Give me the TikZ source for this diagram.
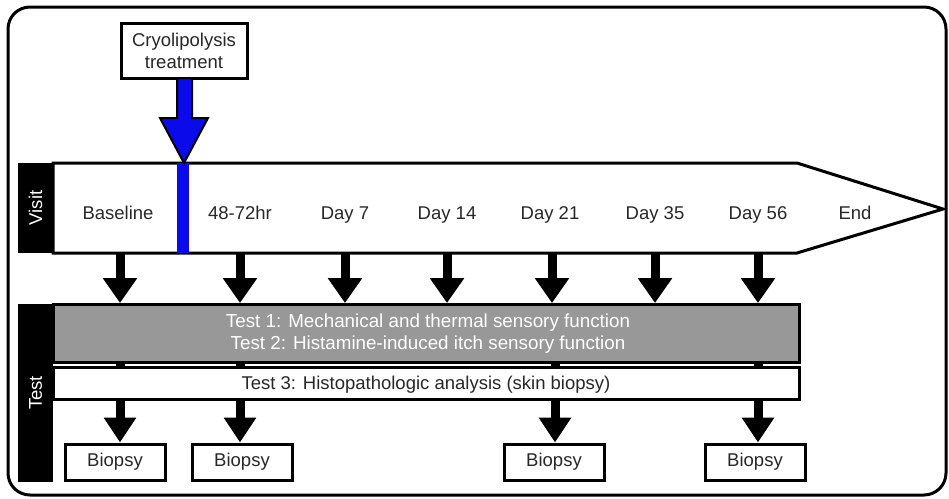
\documentclass[tikz,border=0pt]{standalone}
\usepackage{fontspec}
\setmainfont{Liberation Sans}
\usetikzlibrary{arrows.meta}
\definecolor{txt}{RGB}{40,40,40}
\definecolor{greybox}{RGB}{152,152,152}
\definecolor{bluebar}{RGB}{10,10,235}
\tikzset{
  lbl/.style={font=\fontsize{18.5}{22}\selectfont, text=txt, inner sep=0pt},
  boxline/.style={draw=black, line width=3pt},
  blockarrow/.style={line width=9pt, -{Triangle[width=33pt,length=25pt]}, shorten >=0pt},
  biopsybox/.style={boxline, fill=white, minimum width=100pt, minimum height=36pt, inner sep=0pt, font=\fontsize{18.5}{22}\selectfont, text=txt},
  sidelabel/.style={fill=black, text=white, inner sep=0pt, font=\fontsize{18.5}{22}\selectfont}
}
\begin{document}
\begin{tikzpicture}[x=1pt,y=-1pt]
\useasboundingbox (0,0) rectangle (949,498);
% outer frame
\draw[line width=3pt, rounded corners=22pt] (8,7) rectangle (946,495);

% visit band
\draw[boxline, fill=white] (53,163) -- (797,163) -- (943,209) -- (797,253) -- (53,253) -- cycle;
\fill[bluebar] (177,163) rectangle (189,253);
\node[sidelabel, minimum width=35pt, minimum height=90pt] (visitlbl) at (35.5,208) {};
\node[rotate=90, text=white, font=\fontsize{18.5}{22}\selectfont] at (visitlbl) {Visit};

% cryo box and blue arrow
\node[boxline, fill=white, minimum width=126pt, minimum height=55pt, inner sep=0pt, align=center, lbl, font=\fontsize{18.5}{22}\selectfont] (cryo) at (184,50.5) {Cryolipolysis\\treatment};
\coordinate (blueTip) at (184,163);
\draw[line width=2pt, fill=bluebar, line join=miter]
  (177,78) -- (192,78) -- (192,118) -- (208,118) -- (blueTip) -- (160,118) -- (177,118) -- cycle;

% visit labels
\node[lbl, anchor=base] (v1) at (118,219) {Baseline};
\node[lbl, anchor=base] (v2) at (240,219) {48-72hr};
\node[lbl, anchor=base] (v3) at (345,219) {Day 7};
\node[lbl, anchor=base] (v4) at (447,219) {Day 14};
\node[lbl, anchor=base] (v5) at (550,219) {Day 21};
\node[lbl, anchor=base] (v6) at (655,219) {Day 35};
\node[lbl, anchor=base] (v7) at (758,219) {Day 56};
\node[lbl, anchor=base] (v8) at (855,219) {End};

% test label
\node[sidelabel, minimum width=35pt, minimum height=178pt] (testlbl) at (35.5,393) {};
\node[rotate=90, text=white, font=\fontsize{18.5}{22}\selectfont] at (testlbl) {Test};

% stubs between grey and white box
\foreach \x in {120,240,555,758}{
  \fill[black] (\x-4.5,360) rectangle (\x+4.5,369);
}

% test boxes
\draw[boxline, fill=greybox] (53,304) rectangle (799,362);
\node[font=\fontsize{18.8}{22}\selectfont, text=white, align=center, inner sep=0pt] (t12) at (428,334) {Test 1: Mechanical and thermal sensory function\\Test 2: Histamine-induced itch sensory function};
\draw[boxline, fill=white] (53,367) rectangle (799,399);
\node[lbl, anchor=base] (t3) at (426,389) {Test 3: Histopathologic analysis (skin biopsy)};

% arrows from visits to tests
\foreach \x in {120,240,345,447,552,655,758}{
  \coordinate (a\x) at (\x,254);
  \coordinate (b\x) at (\x,303);
  \draw[blockarrow] (a\x) -- (b\x);
}

% biopsy boxes
\node[biopsybox] (bx1) at (115,462) {Biopsy};
\node[biopsybox] (bx2) at (242,462) {Biopsy};
\node[biopsybox] (bx3) at (554,462) {Biopsy};
\node[biopsybox] (bx4) at (755,462) {Biopsy};

\foreach \x/\b in {120/bx1,240/bx2,555/bx3,758/bx4}{
  \coordinate (c\x) at (\x,400);
  \draw[line width=9pt, -{Triangle[width=31pt,length=25pt]}] (c\x) -- (\b.north -| c\x);
}
\end{tikzpicture}
\end{document}
